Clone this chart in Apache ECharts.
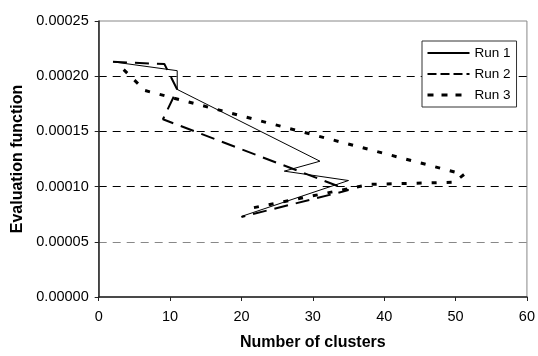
<!DOCTYPE html>
<html><head><meta charset="utf-8">
<script src="https://cdn.jsdelivr.net/npm/echarts@6/dist/echarts.min.js"></script>
<style>html,body{margin:0;padding:0;background:#fff}#c{width:538px;height:356px}</style>
</head><body><div id="c"></div>
<script>
const seriesNames = ['Run 1', 'Run 2', 'Run 3'];
const run1X = [2, 11, 11, 31, 26, 35, 20];
const run1Y = [0.000213, 0.000205, 0.000188, 0.000123, 0.000114, 0.0001055, 0.000073];
const run2X = [2, 9.2, 11, 9, 35, 20];
const run2Y = [0.000213, 0.000211, 0.000188, 0.000161, 0.0000968, 0.0000725];
const run3X = [3.5, 6.5, 51.2, 49.8, 38, 21];
const run3Y = [0.000206, 0.000187, 0.000111, 0.000104, 0.000102, 0.00008];
const xTicks = [0, 10, 20, 30, 40, 50, 60];
const yTicks = ['0.00000', '0.00005', '0.00010', '0.00015', '0.00020', '0.00025'];

const zip = (xs, ys) => xs.map((x, i) => [x, ys[i]]);
const font = 'Liberation Sans, Arial, sans-serif';
const chart = echarts.init(document.getElementById('c'), null, {renderer: 'canvas'});
chart.setOption({
  animation: false,
  backgroundColor: '#fff',
  grid: {left: 98.7, right: 6, top: 21, bottom: 54, show: true, borderColor: '#888', borderWidth: 1},
  xAxis: {
    type: 'value', min: xTicks[0], max: xTicks[xTicks.length - 1], interval: 10,
    name: 'Number of clusters', nameLocation: 'middle', nameGap: 38,
    nameTextStyle: {fontFamily: font, fontWeight: 'bold', fontSize: 16, color: '#000'},
    axisLine: {show: true, lineStyle: {color: '#222', width: 1.5}},
    axisTick: {show: true, inside: false, length: 4, lineStyle: {color: '#222'}},
    axisLabel: {fontFamily: font, fontSize: 14.5, color: '#000', margin: 12},
    splitLine: {show: false}
  },
  yAxis: {
    type: 'value', min: 0, max: 0.00025, interval: 0.00005,
    name: 'Evaluation function', nameLocation: 'middle', nameGap: 70,
    nameTextStyle: {fontFamily: font, fontWeight: 'bold', fontSize: 16, color: '#000'},
    axisLine: {show: true, lineStyle: {color: '#222', width: 1.5}},
    axisTick: {show: true, inside: false, length: 4, lineStyle: {color: '#222'}},
    axisLabel: {fontFamily: font, fontSize: 14.5, color: '#000', margin: 10,
      formatter: (v) => yTicks[Math.round(v / 0.00005)]},
    splitLine: {show: true, showMinLine: false, showMaxLine: false,
      lineStyle: {color: ['#888', '#000', '#000', '#000', '#000'], type: [8, 6], width: 1}}
  },
  legend: {
    orient: 'vertical', left: 422, top: 41,
    backgroundColor: '#fff', borderColor: '#333', borderWidth: 1,
    padding: [5, 6, 5, 4], itemGap: 7, itemWidth: 42, itemHeight: 14,
    itemStyle: {opacity: 0, borderWidth: 0},
    textStyle: {fontFamily: font, fontSize: 13.5, color: '#000'},
    data: [
      {name: seriesNames[0], lineStyle: {opacity: 1}},
      {name: seriesNames[1], lineStyle: {type: [9, 4], width: 2, opacity: 1}},
      {name: seriesNames[2], lineStyle: {type: [6, 8], width: 3, opacity: 1}}
    ]
  },
  series: [
    {name: seriesNames[0], type: 'line', data: zip(run1X, run1Y), showSymbol: false, symbol: 'none',
      lineStyle: {color: '#000', width: 1, type: 'solid'}, itemStyle: {color: '#000'}},
    {name: seriesNames[1], type: 'line', data: zip(run2X, run2Y), showSymbol: false, symbol: 'none',
      lineStyle: {color: '#000', width: 2, type: [14, 8]}, itemStyle: {color: '#000'}},
    {name: seriesNames[2], type: 'line', data: zip(run3X, run3Y), showSymbol: false, symbol: 'none',
      lineStyle: {color: '#000', width: 3, type: [5, 10]}, itemStyle: {color: '#000'}}
  ]
});
</script></body></html>
